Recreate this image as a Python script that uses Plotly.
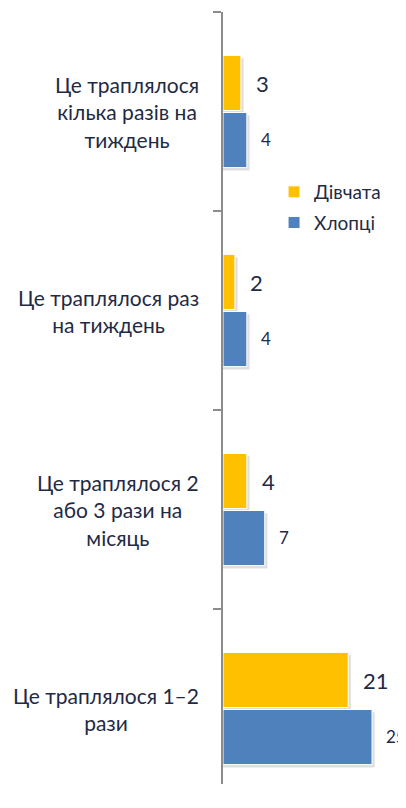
import plotly.graph_objects as go

categories = [
    "Це траплялося<br>кілька разів на<br>тиждень",
    "Це траплялося раз<br>на тиждень",
    "Це траплялося 2<br>або 3 рази на<br>місяць",
    "Це траплялося 1–2<br>рази",
]
girls = [3, 2, 4, 21]
boys = [4, 4, 7, 25]
series_names = ["Дівчата", "Хлопці"]

FONT = "Lato"
TXT = "#1F2A44"
idx = list(range(len(categories)))
BW = 0.277          # bar thickness (category units)
GAP = 0.005         # half gap between the two bars
SH_X = 0.45         # shadow extension in x units
SH_Y = 0.014        # shadow drop in category units

fig = go.Figure()
# soft drop shadows
for vals, off in ((girls, -GAP - BW), (boys, GAP)):
    fig.add_trace(go.Bar(y=idx, x=[v + SH_X for v in vals], orientation="h",
                         width=BW, offset=off + SH_Y, showlegend=False,
                         hoverinfo="skip",
                         marker=dict(color="rgba(0,0,0,0.13)", line=dict(width=0))))
fig.add_trace(go.Bar(y=idx, x=girls, orientation="h", name=series_names[0],
                     legendgroup="g", width=BW, offset=-GAP - BW,
                     marker=dict(color="#FFC000", line=dict(color="white", width=1))))
fig.add_trace(go.Bar(y=idx, x=boys, orientation="h", name=series_names[1],
                     legendgroup="b", width=BW, offset=GAP,
                     marker=dict(color="#4F81BD", line=dict(color="white", width=1))))

ann = []
for i, c in enumerate(categories):
    ann.append(dict(x=0, xref="paper", y=i, yref="y", text=c, showarrow=False,
                    xanchor="right", align="center", xshift=-22,
                    font=dict(family=FONT, size=21, color=TXT)))
for i, v in enumerate(girls):
    ann.append(dict(x=v, y=i - 0.14, text=str(v), showarrow=False, xanchor="left",
                    xshift=13, font=dict(family=FONT, size=22, color=TXT)))
for i, v in enumerate(boys):
    ann.append(dict(x=v, y=i + 0.14, text=str(v), showarrow=False, xanchor="left",
                    xshift=12, font=dict(family=FONT, size=17, color=TXT)))

H = 776
fig.update_layout(
    width=398, height=H,
    margin=dict(l=215, r=0, t=4, b=0),
    paper_bgcolor="white", plot_bgcolor="white",
    barmode="overlay",
    showlegend=True,
    legend=dict(x=0.279, y=1 - 161 / (H - 4), xanchor="left", yanchor="top",
                font=dict(family=FONT, size=19, color=TXT),
                bgcolor="rgba(0,0,0,0)", itemwidth=30, tracegroupgap=3),
    annotations=ann,
    font=dict(family=FONT, color=TXT),
)
fig.update_xaxes(range=[0, 30.7], visible=False, fixedrange=True)
fig.update_yaxes(range=[-0.5 + (H - 4) / 199, -0.5], tickvals=[-0.5, 0.5, 1.5, 2.5, 3.5],
                 showticklabels=False, ticks="outside", ticklen=8, tickwidth=1.5,
                 tickcolor="#8C8C8C", showline=True, linecolor="#8C8C8C",
                 linewidth=1.5, showgrid=False, zeroline=False)

fig.write_html("out.html")
